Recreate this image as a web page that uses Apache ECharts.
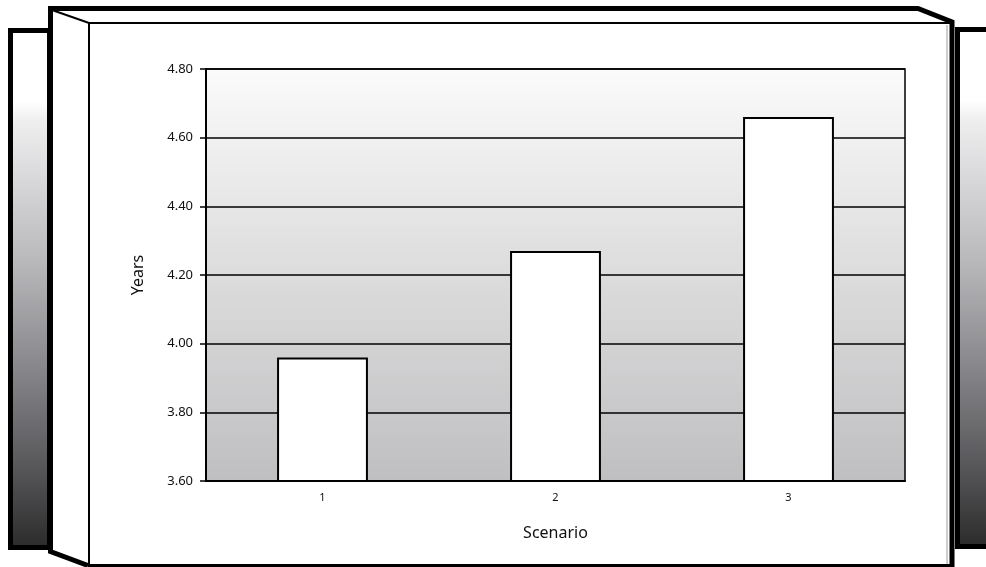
<!DOCTYPE html>
<html>
<head>
<meta charset="utf-8">
<style>
  html, body { margin: 0; padding: 0; background: #ffffff; }
  #chart { width: 986px; height: 567px; }
</style>
<script src="https://cdn.jsdelivr.net/npm/echarts@6/dist/echarts.min.js"></script>
</head>
<body>
<div id="chart"></div>
<script>
// Scenario categories and the years value of each
const scenarios = ['1', '2', '3'];
const years = [3.96, 4.27, 4.66];

// Value axis range
const yMin = 3.6;
const yMax = 4.8;
const yStep = 0.2;

const FONT = 'Noto Sans';

const chart = echarts.init(document.getElementById('chart'), null, { renderer: 'canvas' });

// Dark fading panel fill used for the two slabs behind the frame
const panelFill = {
  type: 'linear', x: 0, y: 0, x2: 0, y2: 1,
  colorStops: [
    { offset: 0, color: '#ffffff' },
    { offset: 0.14, color: '#ffffff' },
    { offset: 0.18, color: '#eeeeef' },
    { offset: 0.45, color: '#b8b8bb' },
    { offset: 0.64, color: '#8a8a8e' },
    { offset: 0.85, color: '#555558' },
    { offset: 1, color: '#2a2a2a' }
  ]
};

const K = '#000000';
const frame = [
  // back slabs
  { type: 'rect', z: -20, shape: { x: 10.5, y: 30.5, width: 39, height: 517 },
    style: { fill: panelFill, stroke: K, lineWidth: 5 } },
  { type: 'rect', z: -20, shape: { x: 957.5, y: 29.5, width: 50, height: 517 },
    style: { fill: panelFill, stroke: K, lineWidth: 5 } },
  // box: top face and side face
  { type: 'polygon', z: -15, shape: { points: [[50.5, 8.5], [918, 8.5], [952, 23], [89, 23]] },
    style: { fill: '#ffffff', stroke: null } },
  { type: 'polygon', z: -15, shape: { points: [[50.5, 8.5], [89, 23], [89, 565], [50.5, 551]] },
    style: { fill: '#ffffff', stroke: null } },
  // box: front face
  { type: 'rect', z: -15, shape: { x: 89, y: 23, width: 863, height: 545 },
    style: { fill: '#ffffff', stroke: null } },
  // thin inner edges
  { type: 'polyline', z: -10, shape: { points: [[52, 10], [89, 23], [950, 23]] },
    style: { stroke: K, lineWidth: 2, fill: null } },
  { type: 'line', z: -10, shape: { x1: 89, y1: 23, x2: 89, y2: 566 },
    style: { stroke: K, lineWidth: 2 } },
  { type: 'line', z: -10, shape: { x1: 947, y1: 25, x2: 947, y2: 567 },
    style: { stroke: '#9a9a9a', lineWidth: 1 } },
  // thick outline
  { type: 'polyline', z: -10,
    shape: { points: [[88, 565.5], [50.5, 551.5], [50.5, 8.5], [918, 8.5], [952, 22], [952, 570]] },
    style: { stroke: K, lineWidth: 5, fill: null, lineJoin: 'miter' } },
  { type: 'line', z: -10, shape: { x1: 88, y1: 565.5, x2: 952, y2: 565.5 },
    style: { stroke: K, lineWidth: 3 } }
];

chart.setOption({
  backgroundColor: '#ffffff',
  animation: false,
  graphic: { elements: frame },
  grid: {
    left: 206, right: 81, top: 69, bottom: 86,
    show: true,
    borderColor: K,
    borderWidth: 1.5,
    backgroundColor: {
      type: 'linear', x: 0, y: 0, x2: 0, y2: 1,
      colorStops: [
        { offset: 0, color: '#fbfbfb' },
        { offset: 0.5, color: '#dcdcdd' },
        { offset: 1, color: '#bfbfc1' }
      ]
    }
  },
  xAxis: {
    type: 'category',
    data: scenarios,
    name: 'Scenario',
    nameLocation: 'middle',
    nameGap: 44,
    nameTextStyle: { fontFamily: FONT, fontSize: 16, color: '#111' },
    axisLine: { lineStyle: { color: K, width: 2 } },
    axisTick: { show: false },
    axisLabel: { fontFamily: FONT, fontSize: 11, color: '#111', margin: 11 }
  },
  yAxis: {
    type: 'value',
    min: yMin, max: yMax, interval: yStep,
    name: 'Years',
    nameLocation: 'middle',
    nameGap: 60,
    nameTextStyle: { fontFamily: FONT, fontSize: 16, color: '#111' },
    axisLine: { show: true, lineStyle: { color: K, width: 2 } },
    axisTick: { show: true, length: 6, lineStyle: { color: K, width: 1.5 } },
    axisLabel: {
      fontFamily: FONT, fontSize: 13, color: '#111', margin: 13,
      formatter: v => v.toFixed(2)
    },
    splitLine: { show: true, lineStyle: { color: K, width: 1.5 } }
  },
  series: [{
    type: 'bar',
    data: years,
    barWidth: '39%',
    itemStyle: { color: '#ffffff', borderColor: K, borderWidth: 2 }
  }]
});
</script>
</body>
</html>
